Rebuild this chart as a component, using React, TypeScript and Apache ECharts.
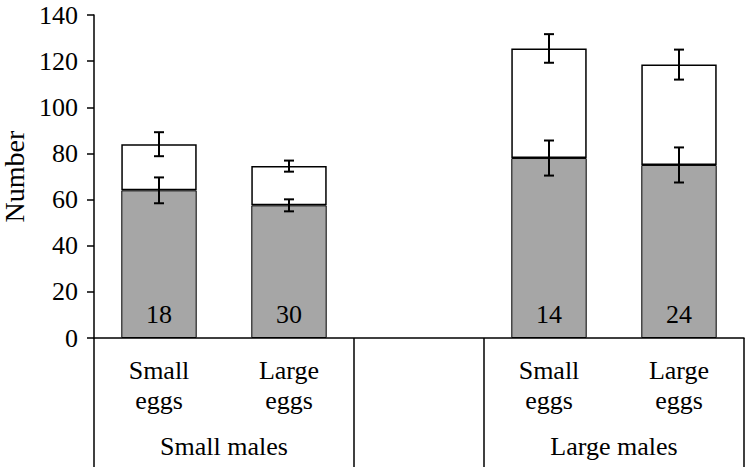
import React, { useEffect, useRef } from "react";
import * as echarts from "echarts";

const categories = ["Small\neggs", "Large\neggs", "", "Small\neggs", "Large\neggs"];
const grayValues: (number | string)[] = [64, 57.5, "-", 78, 75];
const totalValues: (number | string)[] = [84, 74.5, "-", 125.5, 118.5];
const grayErrors: (number | string)[] = [5.6, 2.6, "-", 7.6, 7.6];
const totalErrors: (number | string)[] = [5.2, 2.4, "-", 6.2, 6.5];
const sampleSizes: (number | string)[] = [18, 30, "", 14, 24];
const groupLabels = ["Small males", "Large males"];
const groupSpans = [[0, 1], [3, 4]];
const separatorBoundaries = [0, 2, 3, 5];

const FONT = "Liberation Serif";
const FS = 26;

export default function App() {
  const ref = useRef<HTMLDivElement>(null);
  useEffect(() => {
    if (!ref.current) return;
    const chart = echarts.init(ref.current, undefined, { renderer: "svg" });

    const topValues = totalValues.map((t, i) =>
      typeof t === "number" && typeof grayValues[i] === "number" ? t - (grayValues[i] as number) : "-"
    );

    const errData = (vals: (number | string)[], errs: (number | string)[]) =>
      vals
        .map((v, i) => (typeof v === "number" ? [i, v, errs[i] as number] : null))
        .filter((d) => d !== null);

    const renderErr = (params: any, api: any) => {
      const x = api.value(0);
      const v = api.value(1);
      const e = api.value(2);
      const hi = api.coord([x, v + e]);
      const lo = api.coord([x, v - e]);
      const cap = 5;
      const style = { stroke: "#000", lineWidth: 2 };
      return {
        type: "group",
        children: [
          { type: "line", shape: { x1: hi[0], y1: hi[1], x2: lo[0], y2: lo[1] }, style },
          { type: "line", shape: { x1: hi[0] - cap, y1: hi[1], x2: hi[0] + cap, y2: hi[1] }, style },
          { type: "line", shape: { x1: lo[0] - cap, y1: lo[1], x2: lo[0] + cap, y2: lo[1] }, style },
        ],
      };
    };

    chart.setOption({
      animation: false,
      grid: { left: 94, right: 4, top: 15, bottom: 129, containLabel: false, outerBoundsMode: "none" },
      xAxis: {
        type: "category",
        data: categories,
        axisLine: { lineStyle: { color: "#000", width: 1.5 } },
        axisTick: { show: false },
        axisLabel: {
          color: "#000",
          fontSize: FS,
          lineHeight: 30,
          margin: 17,
          fontFamily: FONT,
          interval: 0,
        },
      },
      yAxis: {
        type: "value",
        min: 0,
        max: 140,
        interval: 20,
        name: "Number",
        nameLocation: "middle",
        nameRotate: 90,
        nameGap: 66,
        nameTextStyle: { color: "#000", fontSize: 28, fontFamily: FONT },
        axisLine: { show: true, lineStyle: { color: "#000", width: 1.5 } },
        axisTick: { show: true, length: 7, lineStyle: { color: "#000", width: 1.5 } },
        axisLabel: { color: "#000", fontSize: FS, margin: 16, fontFamily: FONT },
        splitLine: { show: false },
      },
      series: [
        {
          type: "bar",
          stack: "s",
          data: grayValues,
          barWidth: "58%",
          itemStyle: { color: "#a6a6a6", borderColor: "#000", borderWidth: 1 },
          label: {
            show: true,
            position: "insideBottom",
            distance: 11,
            color: "#000",
            fontSize: FS,
            fontFamily: FONT,
            formatter: (p: any) => String(sampleSizes[p.dataIndex]),
          },
        },
        {
          type: "bar",
          stack: "s",
          data: topValues,
          barWidth: "58%",
          itemStyle: { color: "#fff", borderColor: "#000", borderWidth: 1.5 },
        },
        {
          type: "custom",
          renderItem: renderErr,
          data: errData(grayValues, grayErrors),
          z: 10,
        },
        {
          type: "custom",
          renderItem: renderErr,
          data: errData(totalValues, totalErrors),
          z: 10,
        },
      ],
    });

    const c0 = chart.convertToPixel({ xAxisIndex: 0 }, 0) as number;
    const c1 = chart.convertToPixel({ xAxisIndex: 0 }, 1) as number;
    const slot = c1 - c0;
    const boundaryX = (b: number) => c0 - slot / 2 + b * slot;
    const baseY = chart.convertToPixel({ yAxisIndex: 0 }, 0) as number;
    const H = 467;

    const graphics: any[] = [];
    separatorBoundaries.forEach((b) => {
      const x = boundaryX(b);
      graphics.push({
        type: "line",
        shape: { x1: x, y1: baseY, x2: x, y2: H },
        style: { stroke: "#000", lineWidth: 1.5 },
      });
    });
    groupLabels.forEach((g, i) => {
      const [a, bEnd] = groupSpans[i];
      const x = (boundaryX(a) + boundaryX(bEnd + 1)) / 2;
      graphics.push({
        type: "text",
        x,
        y: 446,
        style: {
          text: g,
          fill: "#000",
          fontSize: FS,
          fontFamily: FONT,
          align: "center",
          verticalAlign: "middle",
        },
      });
    });
    chart.setOption({ graphic: graphics });

    return () => chart.dispose();
  }, []);

  return <div ref={ref} style={{ width: 748, height: 467, position: "absolute", left: 0, top: 0 }} />;
}
